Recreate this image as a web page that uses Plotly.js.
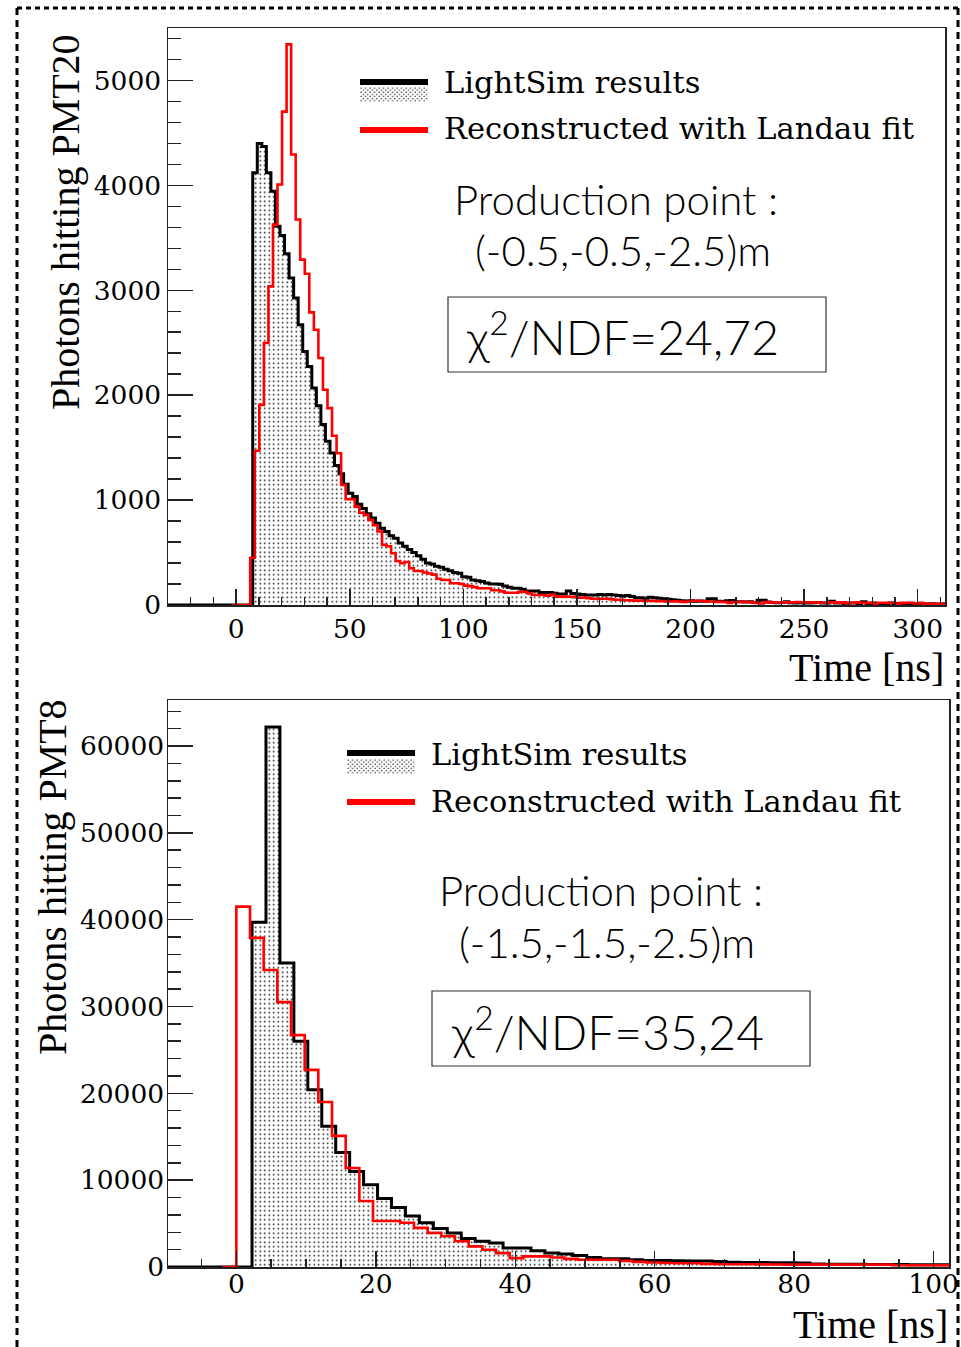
<!DOCTYPE html>
<html>
<head>
<meta charset="utf-8">
<script src="https://cdn.plot.ly/plotly-3.0.1.min.js"></script>
<style>html,body{margin:0;padding:0;background:#fff;}#chart{width:961px;height:1347px;}</style>
</head>
<body>
<div id="chart"></div>
<script>
// ---------------- DATA ----------------
// Top panel: PMT20, production point (-0.5,-0.5,-2.5) m
const topBlackStart = 7.3;   // ns, left edge of first LightSim bin
const topBlackWidth = 2;     // ns
const topBlackCounts = [
  4120, 4400, 4370, 4120, 3944, 3610, 3521, 3349, 3117, 2926,
  2672, 2417, 2274, 2068, 1900, 1720, 1560, 1450, 1330, 1250,
  1150, 1066, 1034, 960, 920, 870, 830, 780, 731, 700,
  660, 636, 590, 560, 530, 500, 470, 436, 400, 391,
  370, 359, 340, 327, 310, 302, 270, 264, 238, 230,
  223, 210, 200, 200, 198, 180, 170, 159, 159, 150,
  134, 134, 134, 120, 118, 118, 112, 105, 105, 134,
  110, 105, 100, 95, 95, 95, 100, 95, 100, 95,
  90, 85, 90, 80, 70, 70, 65, 73, 70, 65,
  60, 55, 50, 45, 40, 38, 40, 35, 38, 35,
  60, 60, 35, 33, 40, 42, 30, 30, 28, 30,
  25, 45, 45, 28, 25, 22, 25, 30, 22, 20,
  22, 18, 20, 22, 25, 20, 18, 35, 20, 18,
  15, 20, 18, 15, 30, 15, 18, 15, 12, 15,
  18, 12, 15, 12, 15, 12, 10, 12, 10, 12,
  10, 10, 12
];
const topRedStart = -1.8;
const topRedWidth = 2;
const topRedCounts = [
  0, 0, 0, 0,
  450, 1470, 1908, 2497, 3037, 3626, 4008, 4703, 5344, 4294,
  3674, 3292, 3158, 2789, 2624, 2354, 2052, 1877, 1613, 1447,
  1145, 1008, 1008, 938, 880, 859, 811, 760, 700, 573,
  560, 493, 420, 398, 410, 350, 324, 324, 310, 300,
  290, 250, 238, 238, 207, 207, 200, 185, 180, 170,
  159, 159, 159, 140, 140, 130, 117, 117, 117, 125,
  125, 110, 95, 95, 95, 88, 100, 80, 80, 80,
  78, 75, 70, 70, 65, 60, 57, 60, 60, 55,
  50, 50, 45, 45, 40, 42, 40, 38, 40, 36,
  38, 35, 33, 35, 33, 30, 33, 40, 40, 38,
  35, 33, 30, 30, 28, 20, 28, 30, 30, 28,
  25, 20, 15, 28, 25, 25, 25, 25, 25, 25,
  28, 25, 25, 25, 25, 22, 22, 25, 25, 22,
  25, 15, 22, 25, 22, 20, 22, 12, 22, 22,
  20, 22, 12, 20, 22, 20, 15, 20, 12, 12,
  12, 12, 12
];
// Bottom panel: PMT8, production point (-1.5,-1.5,-2.5) m
const botBlackStart = 2.25;
const botBlackWidth = 2;
const botBlackCounts = [
  39700, 62200, 35000, 26000, 20400, 16200, 13200, 11000, 9480, 7900,
  6850, 5870, 5100, 4440, 3930, 3280, 2970, 2770, 2180, 2180,
  1870, 1600, 1490, 1330, 1100, 940, 940, 830, 760, 740,
  720, 700, 680, 620, 560, 520, 510, 500, 480, 450,
  350, 330, 320, 310, 300, 300, 280, 270, 260, 250
];
const botRedStart = -1.96;
const botRedWidth = 1.96;
const botRedCounts = [
  0, 41500, 37900, 34200, 30500, 26700, 22700, 19000, 15100, 11400,
  7600, 5290, 5290, 5100, 4510, 3930, 3550, 2970, 2380, 1990,
  1600, 1020, 1220, 1220, 1100, 940, 830, 830, 830, 710,
  590, 520, 460, 430, 430, 360, 320, 310, 310, 300,
  280, 270, 270, 270, 270, 270, 270, 270, 270, 200,
  200, 200, 200, 200
];
const legendLabels = ["LightSim results", "Reconstructed with Landau fit"];
const yTitles = ["Photons hitting PMT20", "Photons hitting PMT8"];
const xTitle = "Time [ns]";
const prodLines = [["Production point :", "(-0.5,-0.5,-2.5)m"], ["Production point :", "(-1.5,-1.5,-2.5)m"]];
const chiTexts = ["χ<sup>2</sup>/NDF=24,72", "χ<sup>2</sup>/NDF=35,24"];

// ---------------- HELPERS ----------------
const W = 961, H = 1347;
const px = x => x / W;
const py = y => 1 - y / H;

function stepTrace(start, width, vals, leadFrom) {
  const x = [], y = [];
  if (leadFrom !== null) { x.push(leadFrom); y.push(0); }
  vals.forEach((v, i) => { x.push(start + i * width); y.push(v); });
  x.push(start + vals.length * width); y.push(vals[vals.length - 1]);
  return {x, y};
}

const topRange = [-30, 312];
const botRange = [-9.8, 102.2];

const tb = stepTrace(topBlackStart, topBlackWidth, topBlackCounts, topRange[0]);
const tr = stepTrace(topRedStart, topRedWidth, topRedCounts, null);
const bb = stepTrace(botBlackStart, botBlackWidth, botBlackCounts, botRange[0]);
const br = stepTrace(botRedStart, botRedWidth, botRedCounts, null);

const pattern = {shape: '.', size: 4.5, solidity: 0.1, fgcolor: '#000', bgcolor: '#fff', fillmode: 'replace'};

const traces = [
  {x: tb.x, y: tb.y, xaxis: 'x', yaxis: 'y', type: 'scatter', mode: 'lines',
   line: {shape: 'hv', color: '#000', width: 3}, fill: 'tozeroy', fillcolor: '#fff', fillpattern: pattern,
   name: legendLabels[0], showlegend: false, hoverinfo: 'skip'},
  {x: tr.x, y: tr.y, xaxis: 'x', yaxis: 'y', type: 'scatter', mode: 'lines',
   line: {shape: 'hv', color: '#ff0000', width: 2.6},
   name: legendLabels[1], showlegend: false, hoverinfo: 'skip'},
  {x: bb.x, y: bb.y, xaxis: 'x2', yaxis: 'y2', type: 'scatter', mode: 'lines',
   line: {shape: 'hv', color: '#000', width: 3}, fill: 'tozeroy', fillcolor: '#fff', fillpattern: pattern,
   name: legendLabels[0], showlegend: false, hoverinfo: 'skip'},
  {x: br.x, y: br.y, xaxis: 'x2', yaxis: 'y2', type: 'scatter', mode: 'lines',
   line: {shape: 'hv', color: '#ff0000', width: 2.6},
   name: legendLabels[1], showlegend: false, hoverinfo: 'skip'}
];

const tickFont = {family: 'DejaVu Serif', size: 26.5, color: '#000'};
function xAxis(domain, range, dtick, minorDtick, anchor, standoff) {
  return {domain, range, anchor, dtick, tick0: 0, ticks: 'inside', ticklen: 16, tickwidth: 1.5, tickcolor: '#222',
    minor: {ticks: 'inside', ticklen: 8, dtick: minorDtick, tickwidth: 1.5, tickcolor: '#222', showgrid: false},
    showline: true, mirror: true, linecolor: '#222', linewidth: 1.5, showgrid: false, zeroline: false,
    tickfont: tickFont, tickformat: 'd', automargin: false, fixedrange: true, ticklabelstandoff: standoff};
}
function yAxis(domain, range, dtick, minorDtick, anchor, standoff) {
  return {domain, range, anchor, dtick, tick0: 0, ticks: 'inside', ticklen: 25, tickwidth: 1.5, tickcolor: '#222',
    minor: {ticks: 'inside', ticklen: 13, dtick: minorDtick, tickwidth: 1.5, tickcolor: '#222', showgrid: false},
    showline: true, mirror: true, linecolor: '#222', linewidth: 1.5, showgrid: false, zeroline: false,
    tickfont: tickFont, tickformat: 'd', separatethousands: false, automargin: false, fixedrange: true, ticklabelstandoff: standoff};
}

const serifTitle = {family: 'Liberation Serif', size: 40, color: '#000'};
const legFont = {family: 'DejaVu Serif', size: 30.5, color: '#000'};
const prodFont = {family: 'Lato', size: 42, color: '#000', weight: 300};
const chiFont = {family: 'Lato', size: 48, color: '#000', weight: 300};

function ann(text, x, y, font, xanchor, extra) {
  return Object.assign({text, x: px(x), y: py(y), xref: 'paper', yref: 'paper', showarrow: false,
    font, xanchor: xanchor || 'center', yanchor: 'middle'}, extra || {});
}

// panel geometry (pixels)
const panels = [
  {legX0: 360, legX1: 428, legBlackY: 82, dotY0: 87, dotY1: 102, legRedY: 130, legTextX: 442, legText1Y: 83, legText2Y: 129,
   prodX: 616, prod1Y: 199, prod2X: 623, prod2Y: 250, box: [448, 297, 826, 372], chiX: 464, chiY: 334,
   yTitleX: 66, yTitleY: 222, xTitleRight: 946, xTitleY: 668},
  {legX0: 347, legX1: 415, legBlackY: 753, dotY0: 759, dotY1: 774, legRedY: 802, legTextX: 429, legText1Y: 754, legText2Y: 801,
   prodX: 601, prod1Y: 890, prod2X: 607, prod2Y: 942, box: [432, 991, 810, 1066], chiX: 449, chiY: 1028,
   yTitleX: 52, yTitleY: 877, xTitleRight: 950, xTitleY: 1324}
];

const dotSvg = 'data:image/svg+xml;utf8,' + encodeURIComponent(
  "<svg xmlns='http://www.w3.org/2000/svg' width='68' height='16' viewBox='0 0 68 16'>" +
  "<defs><pattern id='d' width='4.5' height='4.5' patternUnits='userSpaceOnUse'>" +
  "<circle cx='1.1' cy='1.1' r='0.7' fill='black'/><circle cx='3.35' cy='3.35' r='0.7' fill='black'/></pattern></defs>" +
  "<rect width='68' height='16' fill='url(#d)'/></svg>");

const shapes = [], annotations = [], images = [];
panels.forEach((p, i) => {
  shapes.push({type: 'line', xref: 'paper', yref: 'paper', x0: px(p.legX0), x1: px(p.legX1), y0: py(p.legBlackY), y1: py(p.legBlackY), line: {color: '#000', width: 6}});
  shapes.push({type: 'line', xref: 'paper', yref: 'paper', x0: px(p.legX0), x1: px(p.legX1), y0: py(p.legRedY), y1: py(p.legRedY), line: {color: '#ff0000', width: 6}});
  shapes.push({type: 'rect', xref: 'paper', yref: 'paper', x0: px(p.box[0]), x1: px(p.box[2]), y0: py(p.box[1]), y1: py(p.box[3]), line: {color: '#333', width: 1.2}, fillcolor: 'rgba(0,0,0,0)'});
  images.push({source: dotSvg, xref: 'paper', yref: 'paper', x: px(p.legX0), y: py(p.dotY0), sizex: (p.legX1 - p.legX0) / W, sizey: (p.dotY1 - p.dotY0) / H,
    xanchor: 'left', yanchor: 'top', sizing: 'stretch', layer: 'above'});
  annotations.push(ann(legendLabels[0], p.legTextX, p.legText1Y, legFont, 'left'));
  annotations.push(ann(legendLabels[1], p.legTextX, p.legText2Y, legFont, 'left'));
  annotations.push(ann(prodLines[i][0], p.prodX, p.prod1Y, prodFont, 'center'));
  annotations.push(ann(prodLines[i][1], p.prod2X, p.prod2Y, prodFont, 'center'));
  annotations.push(ann(chiTexts[i], p.chiX, p.chiY, chiFont, 'left'));
  annotations.push(ann(yTitles[i], p.yTitleX, p.yTitleY, serifTitle, 'center', {textangle: -90}));
  annotations.push(ann(xTitle, p.xTitleRight, p.xTitleY, serifTitle, 'right'));
});

// dashed page border
shapes.push({type: 'line', xref: 'paper', yref: 'paper', x0: px(17), x1: px(958), y0: py(8), y1: py(8), line: {color: '#000', width: 3, dash: '5px,4px'}});
shapes.push({type: 'line', xref: 'paper', yref: 'paper', x0: px(17), x1: px(17), y0: py(8), y1: py(1347), line: {color: '#000', width: 3, dash: '7px,5px'}});
shapes.push({type: 'line', xref: 'paper', yref: 'paper', x0: px(958), x1: px(958), y0: py(8), y1: py(1347), line: {color: '#000', width: 3, dash: '7px,5px'}});

const layout = {
  width: W, height: H, autosize: false,
  margin: {l: 0, r: 0, t: 0, b: 0, pad: 0},
  paper_bgcolor: '#fff', plot_bgcolor: '#fff', showlegend: false,
  xaxis: xAxis([px(168), px(945)], topRange, 50, 10, 'y', 0),
  yaxis: yAxis([py(605), py(28)], [0, 5500], 1000, 200, 'x', 0),
  xaxis2: xAxis([px(168), px(949)], botRange, 20, 5, 'y2', -7),
  yaxis2: yAxis([py(1267), py(700)], [0, 65300], 10000, 2000, 'x2', -3),
  shapes, annotations, images
};

Plotly.newPlot('chart', traces, layout, {staticPlot: true, displayModeBar: false});
</script>
</body>
</html>
